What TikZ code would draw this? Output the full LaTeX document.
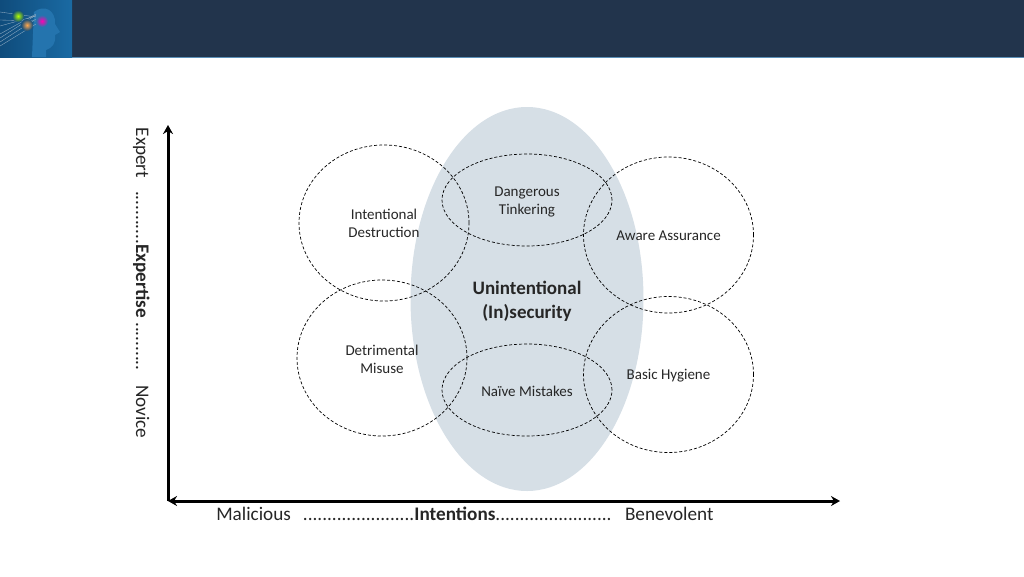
\documentclass[tikz,border=0pt]{standalone}
\usepackage{fontspec}
\setmainfont{Carlito}
\usetikzlibrary{shapes.geometric,arrows.meta}
\definecolor{headerbg}{HTML}{22344C}
\definecolor{headerline}{HTML}{5B90B8}
\definecolor{logobg}{HTML}{0F4C7C}
\definecolor{logoside}{HTML}{1A6AA3}
\definecolor{logohead}{HTML}{2474AE}
\definecolor{blobfill}{HTML}{D6DFE6}
\definecolor{labeltext}{HTML}{262626}
\tikzset{
	zone/.style={ellipse,draw=black,densely dashed,line width=0.7pt,minimum width=170,minimum height=156,inner sep=0pt},
	flatzone/.style={zone,minimum height=92},
	zonetext/.style={align=center,inner sep=0pt,font=\fontsize{15}{18}\selectfont,text=labeltext},
	axisline/.style={line width=3pt,black},
	axistext/.style={font=\fontsize{19.2}{22}\selectfont,text=labeltext,inner sep=0pt},
	tip/.tip={Stealth[length=9pt,width=10pt]}
}
\begin{document}
\begin{tikzpicture}[x=1pt,y=-1pt]
	\useasboundingbox (0,0) rectangle (1024,576);
	% title bar and logo
	\fill[headerbg] (0,0) rectangle (1024,57);
	\fill[headerline] (0,56.5) rectangle (1024,58);
	\shade[left color=logobg,right color=logoside] (0,0) rectangle (72,57);
	\fill[logohead] (34,12) .. controls (44,4) and (56,10) .. (55,24) -- (60,32) -- (55,35) .. controls (56,44) and (52,48) .. (46,50) -- (46,57) -- (32,57) -- (33,34) -- cycle;
	\foreach \a/\b in {2/26,5/42,3/12,10/46,0/34,7/20,1/38}
		\draw[white!55!logobg,line width=0.35pt] (0,\b) -- (36,\a+14);
	\shade[inner color=yellow!70!green,outer color=logobg] (18,16) circle (6);
	\shade[inner color=orange!70!white,outer color=logobg] (27,25) circle (6);
	\shade[inner color=magenta!70!red,outer color=logohead] (42,21) circle (6);
	% central blob
	\node[ellipse,fill=blobfill,minimum width=233,minimum height=384,inner sep=0pt] (blob) at (527,299) {};
	\node[font=\fontsize{19}{24}\selectfont\bfseries,align=center,text=labeltext,inner sep=0pt] (unint) at (527,301) {Unintentional\\(In)security};
	% dashed zones
	\node[zone] (destruct) at (384,223) {};
	\node[zone] (assure) at (668.5,235) {};
	\node[zone] (misuse) at (382,358) {};
	\node[zone] (hygiene) at (668.5,374.5) {};
	\node[flatzone] (tinker) at (527,200) {};
	\node[flatzone] (mistake) at (527,390) {};
	% zone labels
	\node[zonetext] (destructlab) at (384,223.5) {Intentional\\Destruction};
	\node[zonetext] (assurelab) at (668.5,236) {Aware Assurance};
	\node[zonetext] (misuselab) at (382,359.5) {Detrimental\\Misuse};
	\node[zonetext] (hygienelab) at (668.5,376) {Basic Hygiene};
	\node[zonetext] (tinkerlab) at (527,202) {Dangerous\\Tinkering};
	\node[zonetext] (mistakelab) at (527,391) {Naïve Mistakes};
	% axes
	\coordinate (origin) at (168,501);
	\coordinate (ytop) at (168,125);
	\coordinate (xright) at (840,501);
	\draw[axisline,-tip] (origin) -- (ytop);
	\draw[axisline,tip-tip] (origin) -- (xright);
	\node[axistext,anchor=base] (xlabel) at (465,520) {Malicious\hspace{0.4em} .......................\textbf{Intentions}........................\hspace{0.4em} Benevolent};
	\node[axistext,anchor=base,rotate=-90] (ylabel) at (136,283) {Expert\hspace{0.45em} ...........\textbf{Expertise} ..........\hspace{0.45em} Novice};
\end{tikzpicture}
\end{document}
